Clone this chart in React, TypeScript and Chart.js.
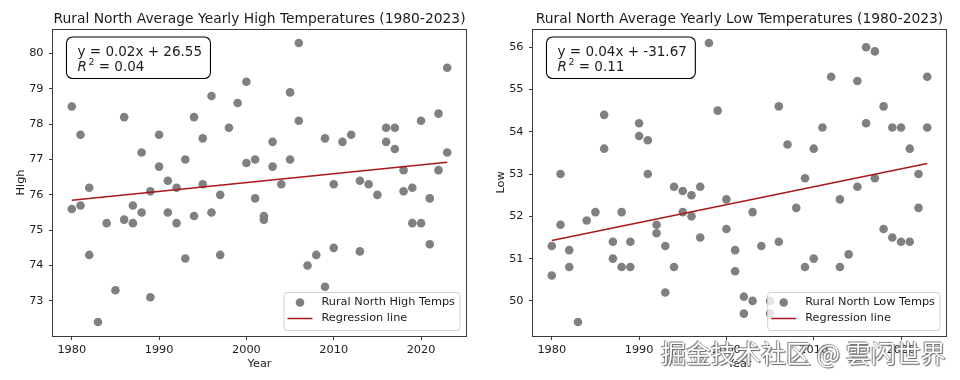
import React, { useEffect, useRef } from "react";
import { Chart, registerables } from "chart.js";

Chart.register(...registerables);

// ---------- data ----------
const HIGH_YEARS = [
  1980, 1980, 1981, 1981, 1982, 1982, 1983, 1984, 1985, 1986, 1986, 1987, 1987, 1988, 1988,
  1989, 1989, 1990, 1990, 1991, 1991, 1992, 1992, 1993, 1993, 1994, 1994, 1995, 1995, 1996,
  1996, 1997, 1997, 1998, 1999, 2000, 2000, 2001, 2001, 2002, 2002, 2003, 2003, 2004, 2005,
  2005, 2006, 2006, 2007, 2008, 2009, 2009, 2010, 2010, 2011, 2012, 2013, 2013, 2014, 2015,
  2016, 2016, 2017, 2017, 2018, 2018, 2019, 2019, 2020, 2020, 2021, 2021, 2022, 2022, 2023,
  2023,
];
const HIGH_TEMPS = [
  78.5, 75.6, 77.7, 75.7, 76.2, 74.3, 72.4, 75.2, 73.3, 78.2, 75.3, 75.7, 75.2, 77.2, 75.5,
  76.1, 73.1, 77.7, 76.8, 76.4, 75.5, 76.2, 75.2, 77.0, 74.2, 78.2, 75.4, 77.6, 76.3, 78.8,
  75.5, 76.0, 74.3, 77.9, 78.6, 79.2, 76.9, 77.0, 75.9, 75.4, 75.3, 77.5, 76.8, 76.3, 78.9,
  77.0, 80.3, 78.1, 74.0, 74.3, 77.6, 73.4, 76.3, 74.5, 77.5, 77.7, 76.4, 74.4, 76.3, 76.0,
  77.9, 77.5, 77.9, 77.3, 76.7, 76.1, 76.2, 75.2, 78.1, 75.2, 75.9, 74.6, 78.3, 76.7, 79.6,
  77.2,
];

const LOW_YEARS = [
  1980, 1980, 1981, 1981, 1982, 1982, 1983, 1984, 1985, 1986, 1986, 1987, 1987, 1988, 1988,
  1989, 1989, 1990, 1990, 1991, 1991, 1992, 1992, 1993, 1993, 1994, 1994, 1995, 1995, 1996,
  1996, 1997, 1997, 1998, 1999, 2000, 2000, 2001, 2001, 2002, 2002, 2003, 2003, 2004, 2005,
  2005, 2006, 2006, 2007, 2008, 2009, 2009, 2010, 2010, 2011, 2012, 2013, 2013, 2014, 2015,
  2015, 2016, 2016, 2017, 2017, 2018, 2018, 2019, 2019, 2020, 2020, 2021, 2021, 2022, 2022,
  2023, 2023,
];
const LOW_TEMPS = [
  51.3, 50.6, 53.0, 51.8, 51.2, 50.8, 49.5, 51.9, 52.1, 54.4, 53.6, 51.4, 51.0, 52.1, 50.8,
  51.4, 50.8, 54.2, 53.9, 53.8, 53.0, 51.8, 51.6, 51.3, 50.2, 52.7, 50.8, 52.6, 52.1, 52.5,
  52.0, 52.7, 51.5, 56.1, 54.5, 52.4, 51.7, 51.2, 50.7, 50.1, 49.7, 52.1, 50.0, 51.3, 50.0,
  49.7, 54.6, 51.4, 53.7, 52.2, 52.9, 50.8, 53.6, 51.0, 54.1, 55.3, 52.4, 50.8, 51.1, 55.2,
  52.7, 56.0, 54.2, 55.9, 52.9, 54.6, 51.7, 54.1, 51.5, 54.1, 51.4, 53.6, 51.4, 53.0, 52.2,
  55.3, 54.1,
];

// regression line end points (x = first and last year)
const FIT_YEARS = [1980, 2023];
const HIGH_FIT = [75.85, 76.92];
const LOW_FIT = [51.43, 53.25];

const YEAR_TICKS = [1980, 1990, 2000, 2010, 2020];
const HIGH_TICKS = [73, 74, 75, 76, 77, 78, 79, 80];
const LOW_TICKS = [50, 51, 52, 53, 54, 55, 56];

const YEAR_RANGE = [1977.85, 2025.15];
const HIGH_RANGE = [72.005, 80.695];
const LOW_RANGE = [49.17, 56.43];

const HIGH_TITLE = "Rural North Average Yearly High Temperatures (1980-2023)";
const LOW_TITLE = "Rural North Average Yearly Low Temperatures (1980-2023)";
const HIGH_EQ = ["y = 0.02x + 26.55", "0.04"];
const LOW_EQ = ["y = 0.04x + -31.67", "0.11"];
const HIGH_LABEL = "Rural North High Temps";
const LOW_LABEL = "Rural North Low Temps";
const FIT_LABEL = "Regression line";
const WATERMARK = "掘金技术社区 @ 雲闪世界";

// ---------- style ----------
const FONT = '"DejaVu Sans", "Liberation Sans", sans-serif';
const POINT_COLOR = "#808080";
const FIT_COLOR = "#a8181c";
const INK = "#1c1c1c";
const SPINE = "#3a3a3a";

type PanelProps = {
  title: string;
  years: number[];
  temps: number[];
  fit: number[];
  yTicks: number[];
  yRange: number[];
  yTitle: string;
  eq: string[];
  seriesLabel: string;
};

function makeOverlay(p: PanelProps) {
  return {
    id: "overlay",
    afterDraw(chart: any) {
      const { ctx, chartArea } = chart;
      const { left, right, top, bottom } = chartArea;
      ctx.save();
      // frame
      ctx.strokeStyle = SPINE;
      ctx.lineWidth = 1;
      ctx.strokeRect(Math.floor(left) - 0.5, Math.floor(top) + 0.5, Math.round(right - left) + 1, Math.round(bottom - top));

      // title
      ctx.fillStyle = INK;
      ctx.font = `13.85px ${FONT}`;
      ctx.textAlign = "center";
      ctx.textBaseline = "alphabetic";
      ctx.fillText(p.title, (left + right) / 2, 22.5);

      // equation box
      ctx.textAlign = "left";
      ctx.font = `13.5px ${FONT}`;
      const w1 = ctx.measureText(p.eq[0]).width;
      const bx = left + 13.5;
      const by = top + 8;
      const bw = w1 + 19.5;
      const bh = 41.5;
      ctx.beginPath();
      (ctx as any).roundRect(bx, by, bw, bh, 6);
      ctx.fillStyle = "#ffffff";
      ctx.fill();
      ctx.strokeStyle = "#000";
      ctx.lineWidth = 1.1;
      ctx.stroke();
      ctx.fillStyle = INK;
      const tx = bx + 11;
      ctx.fillText(p.eq[0], tx, by + 19);
      ctx.font = `italic 13.5px ${FONT}`;
      ctx.fillText("R", tx, by + 33.5);
      const wR = ctx.measureText("R").width;
      ctx.font = `9.5px ${FONT}`;
      ctx.fillText("2", tx + wR + 1.5, by + 27.5);
      const w2 = ctx.measureText("2").width;
      ctx.font = `13.5px ${FONT}`;
      ctx.fillText(" = " + p.eq[1], tx + wR + w2 + 1.5, by + 33.5);

      // legend
      ctx.font = `11.3px ${FONT}`;
      const tw = Math.max(ctx.measureText(p.seriesLabel).width, ctx.measureText(FIT_LABEL).width);
      const lw = 37.5 + tw + 5;
      const lh = 38;
      const lx = right - 6 - lw;
      const ly = bottom - 5.5 - lh;
      ctx.beginPath();
      (ctx as any).roundRect(lx, ly, lw, lh, 3);
      ctx.fillStyle = "rgba(255,255,255,0.8)";
      ctx.fill();
      ctx.strokeStyle = "#d0d0d0";
      ctx.lineWidth = 1;
      ctx.stroke();
      ctx.fillStyle = POINT_COLOR;
      ctx.beginPath();
      ctx.arc(lx + 16, ly + 10, 4.3, 0, Math.PI * 2);
      ctx.fill();
      ctx.strokeStyle = FIT_COLOR;
      ctx.lineWidth = 1.5;
      ctx.beginPath();
      ctx.moveTo(lx + 3.5, ly + 26);
      ctx.lineTo(lx + 28.5, ly + 26);
      ctx.stroke();
      ctx.fillStyle = INK;
      ctx.textBaseline = "middle";
      ctx.fillText(p.seriesLabel, lx + 37.5, ly + 10);
      ctx.fillText(FIT_LABEL, lx + 37.5, ly + 26);
      ctx.restore();
    },
  };
}

function Panel(p: PanelProps) {
  const ref = useRef<HTMLCanvasElement | null>(null);
  useEffect(() => {
    if (!ref.current) return;
    const points = p.years.map((y, i) => ({ x: y, y: p.temps[i] }));
    const fitPts = FIT_YEARS.map((y, i) => ({ x: y, y: p.fit[i] }));
    const chart = new Chart(ref.current, {
      type: "scatter",
      data: {
        datasets: [
          {
            type: "line",
            label: FIT_LABEL,
            data: fitPts,
            borderColor: FIT_COLOR,
            borderWidth: 1.5,
            pointRadius: 0,
            fill: false,
            order: 0,
          } as any,
          {
            label: p.seriesLabel,
            data: points,
            backgroundColor: POINT_COLOR,
            borderWidth: 0,
            pointRadius: 4.3,
            order: 1,
          },
        ],
      },
      options: {
        responsive: false,
        animation: false,
        devicePixelRatio: 1,
        layout: { padding: { top: 29, right: 14, bottom: 0, left: 0 } },
        plugins: { legend: { display: false }, title: { display: false }, tooltip: { enabled: false } },
        scales: {
          x: {
            type: "linear",
            min: YEAR_RANGE[0],
            max: YEAR_RANGE[1],
            afterBuildTicks: (s: any) => {
              s.ticks = YEAR_TICKS.map((v) => ({ value: v }));
            },
            afterFit: (s: any) => {
              s.height = 44;
            },
            grid: { drawOnChartArea: false, drawTicks: true, tickLength: 4, tickColor: SPINE },
            border: { display: false },
            ticks: { color: INK, font: { family: FONT, size: 11.3 }, padding: 3, maxRotation: 0, callback: (v: any) => String(v) },
            title: { display: true, text: "Year", color: INK, font: { family: FONT, size: 11.3 }, padding: { top: 0, bottom: 9 } },
          },
          y: {
            type: "linear",
            min: p.yRange[0],
            max: p.yRange[1],
            afterBuildTicks: (s: any) => {
              s.ticks = p.yTicks.map((v) => ({ value: v }));
            },
            afterFit: (s: any) => {
              s.width = 53;
            },
            grid: { drawOnChartArea: false, drawTicks: true, tickLength: 4, tickColor: SPINE },
            border: { display: false },
            ticks: { color: INK, font: { family: FONT, size: 11.3 }, padding: 5.5, callback: (v: any) => String(v) },
            title: { display: true, text: p.yTitle, color: INK, font: { family: FONT, size: 11.3 }, padding: { top: 14, bottom: 0 } },
          },
        },
      },
      plugins: [makeOverlay(p)],
    });
    return () => chart.destroy();
  }, []);
  return <canvas ref={ref} width={480} height={380} style={{ display: "block", width: 480, height: 380 }} />;
}

export default function App() {
  return (
    <div style={{ position: "absolute", left: 0, top: 0, width: 960, height: 380, background: "#fff", overflow: "hidden" }}>
      <div style={{ position: "absolute", left: 0, top: 0 }}>
        <Panel
          title={HIGH_TITLE}
          years={HIGH_YEARS}
          temps={HIGH_TEMPS}
          fit={HIGH_FIT}
          yTicks={HIGH_TICKS}
          yRange={HIGH_RANGE}
          yTitle="High"
          eq={HIGH_EQ}
          seriesLabel={HIGH_LABEL}
        />
      </div>
      <div style={{ position: "absolute", left: 480, top: 0 }}>
        <Panel
          title={LOW_TITLE}
          years={LOW_YEARS}
          temps={LOW_TEMPS}
          fit={LOW_FIT}
          yTicks={LOW_TICKS}
          yRange={LOW_RANGE}
          yTitle="Low"
          eq={LOW_EQ}
          seriesLabel={LOW_LABEL}
        />
      </div>
      <div
        style={{
          position: "absolute",
          left: 661,
          top: 335,
          fontFamily: '"Noto Sans CJK SC", sans-serif',
          fontSize: 25,
          lineHeight: "34px",
          color: "#ffffff",
          whiteSpace: "nowrap",
          textShadow: "0 0 1px #555, 1px 1px 1px #666, -1px -1px 1px #888",
        }}
      >
        {WATERMARK}
      </div>
    </div>
  );
}
